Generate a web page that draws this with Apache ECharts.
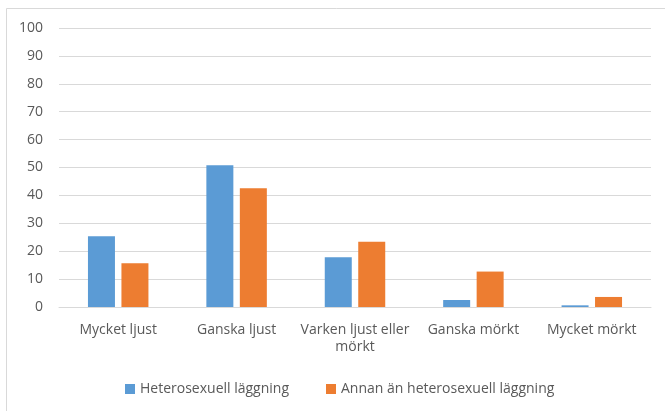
<!DOCTYPE html>
<html>
<head>
<meta charset="utf-8">
<script src="https://cdn.jsdelivr.net/npm/echarts@6/dist/echarts.min.js"></script>
<style>
  html, body { margin: 0; padding: 0; background: #fff; }
  #chart { width: 665px; height: 411px; }
</style>
</head>
<body>
<div id="chart"></div>
<script>
const categories = ['Mycket ljust', 'Ganska ljust', 'Varken ljust eller\nmörkt', 'Ganska mörkt', 'Mycket mörkt'];
const seriesNames = ['Heterosexuell läggning', 'Annan än heterosexuell läggning'];
const hetero = [25.4, 50.8, 17.8, 2.5, 0.6];
const annan = [15.7, 42.6, 23.4, 12.7, 3.6];

const FONT = '"Open Sans", "Liberation Sans", sans-serif';
const TEXT = '#595959';

const chart = echarts.init(document.getElementById('chart'));

const option = {
    backgroundColor: '#fff',
    animation: false,
    graphic: [
        {
            type: 'rect',
            shape: { x: 6.5, y: 8.5, width: 700, height: 450 },
            style: { fill: 'none', stroke: '#d9d9d9', lineWidth: 1 },
            silent: true
        }
    ],
    grid: { left: 59, right: 14, top: 28, bottom: 104 },
    legend: {
        data: seriesNames,
        bottom: 10,
        left: 120,
        itemWidth: 10,
        itemHeight: 10,
        itemGap: 37,
        icon: 'rect',
        textStyle: { color: TEXT, fontSize: 14, fontFamily: FONT }
    },
    xAxis: {
        type: 'category',
        data: categories,
        axisLine: { show: true, lineStyle: { color: '#d9d9d9' } },
        axisTick: { show: false },
        axisLabel: {
            color: TEXT, fontSize: 14, fontFamily: FONT,
            margin: 15, interval: 0, lineHeight: 17
        }
    },
    yAxis: {
        type: 'value',
        min: 0,
        max: 100,
        interval: 10,
        axisLine: { show: false },
        axisTick: { show: false },
        splitLine: { lineStyle: { color: '#d9d9d9', width: 1 } },
        axisLabel: { color: TEXT, fontSize: 14, fontFamily: FONT, margin: 16 }
    },
    series: [
        {
            name: seriesNames[0],
            type: 'bar',
            data: hetero,
            barWidth: 27,
            barGap: '24%',
            itemStyle: { color: '#5B9BD5' }
        },
        {
            name: seriesNames[1],
            type: 'bar',
            data: annan,
            barWidth: 27,
            itemStyle: { color: '#ED7D31' }
        }
    ]
};

chart.setOption(option);
</script>
</body>
</html>
